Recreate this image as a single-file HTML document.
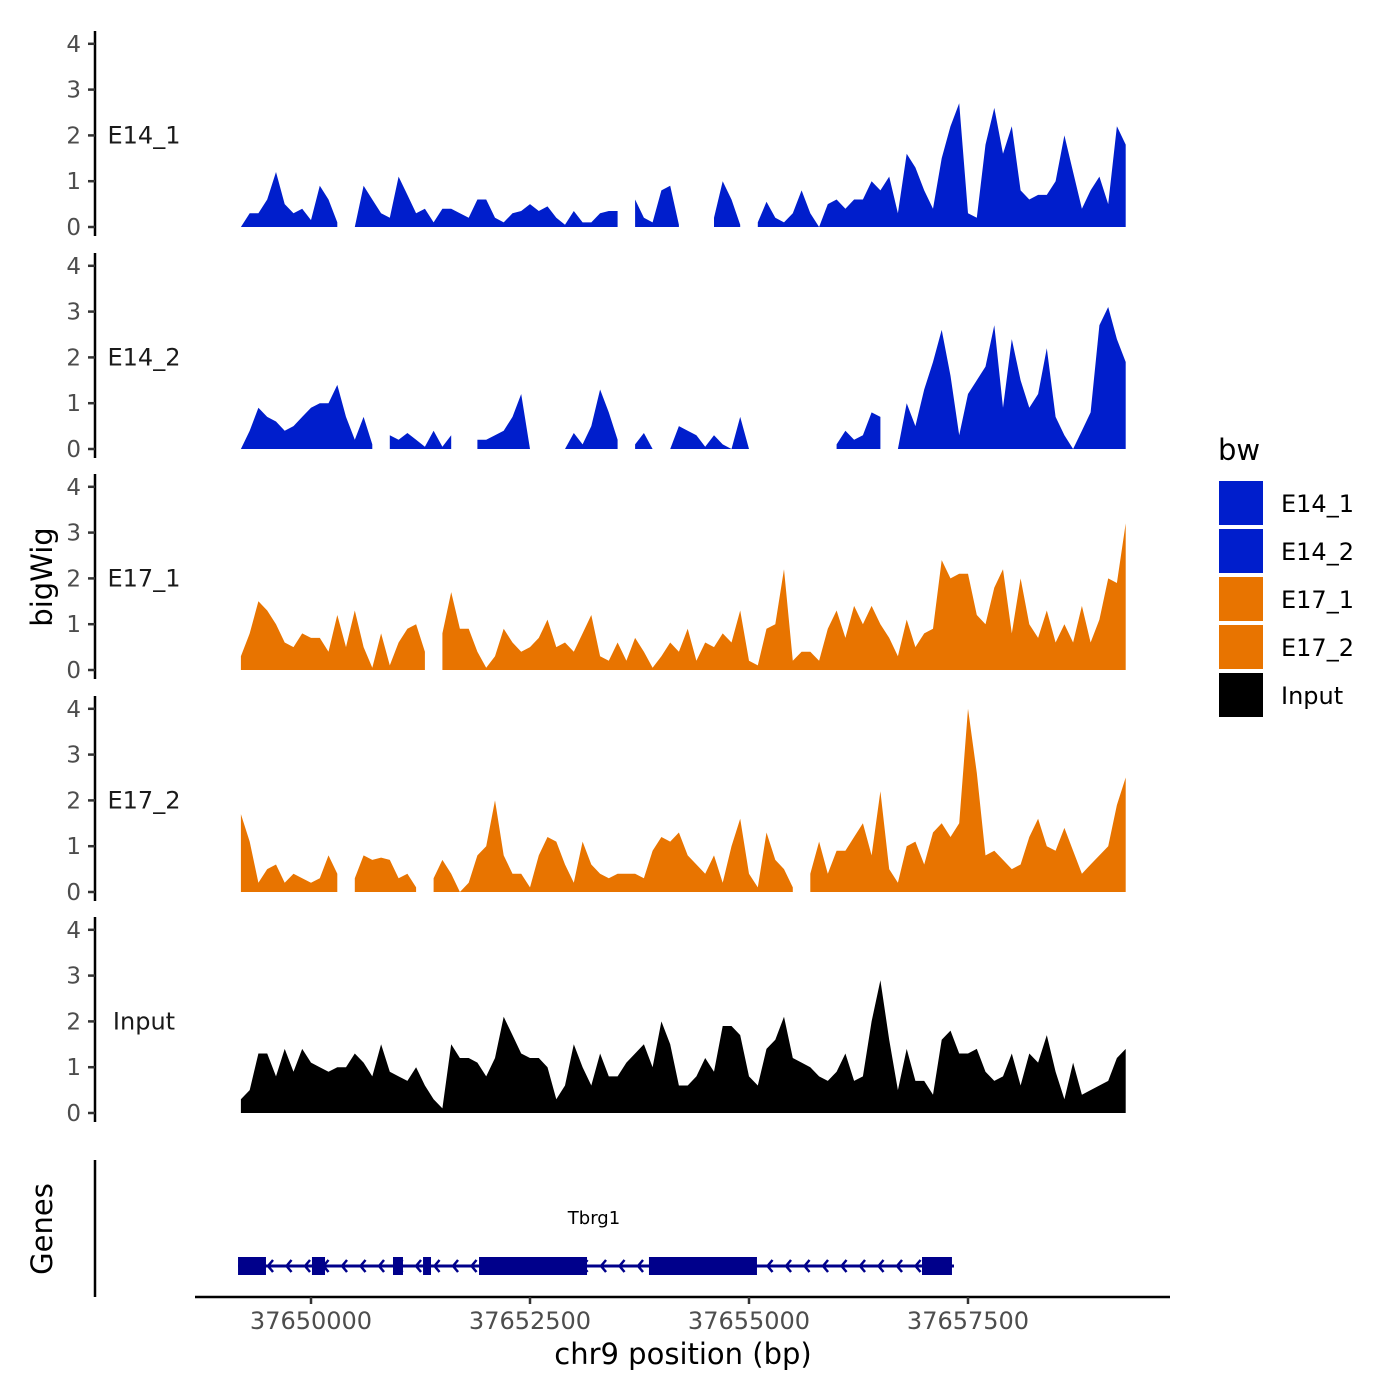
<!DOCTYPE html>
<html><head><meta charset="utf-8"><style>
body{margin:0;background:#fff}
svg{display:block}
text{font-family:"DejaVu Sans","Liberation Sans",sans-serif}
</style></head><body>
<svg id="chart" xmlns="http://www.w3.org/2000/svg" width="1400" height="1400" viewBox="0 0 1400 1400">
<g id="tracks"></g>
<g id="genes"></g>
<g id="xaxis"></g>
<g id="legend"></g>
<text x="52" y="577" font-size="29" text-anchor="middle" transform="rotate(-90 52 577)">bigWig</text>
<text x="52" y="1229" font-size="29" text-anchor="middle" transform="rotate(-90 52 1229)">Genes</text>
<text x="683" y="1364" font-size="29" text-anchor="middle">chr9 position (bp)</text>
</svg>
<script>
const trackNames = ["E14_1","E14_2","E17_1","E17_2","Input"];
const trackColors = ["#001ecc","#001ecc","#e87400","#e87400","#000000"];
const binStart = 37649200;
const binStep = 100;
const yTicks = [0,1,2,3,4];
const xTicks = [37650000,37652500,37655000,37657500];
const xTickLabels = ["37650000","37652500","37655000","37657500"];
const n = null;
const e14_1 = [0,0.3,0.3,0.6,1.2,0.5,0.3,0.4,0.15,0.9,0.6,0.1,n,0,0.9,0.6,0.3,0.2,1.1,0.7,0.3,0.4,0.1,0.4,0.4,0.3,0.2,0.6,0.6,0.2,0.1,0.3,0.35,0.5,0.35,0.45,0.2,0.05,0.35,0.1,0.1,0.3,0.35,0.35,n,0.6,0.2,0.1,0.8,0.9,0.05,n,n,n,0.2,1.0,0.6,0.05,n,0.1,0.55,0.2,0.1,0.3,0.8,0.3,0,0.5,0.6,0.4,0.6,0.6,1.0,0.8,1.1,0.3,1.6,1.3,0.8,0.4,1.5,2.2,2.7,0.3,0.2,1.8,2.6,1.6,2.2,0.8,0.6,0.7,0.7,1.0,2.0,1.2,0.4,0.8,1.1,0.5,2.2,1.8];
const e14_2 = [0,0.4,0.9,0.7,0.6,0.4,0.5,0.7,0.9,1.0,1.0,1.4,0.7,0.2,0.7,0.1,n,0.3,0.2,0.35,0.2,0.05,0.4,0.05,0.3,n,n,0.2,0.2,0.3,0.4,0.7,1.2,0,n,n,n,0,0.35,0.1,0.5,1.3,0.8,0.2,n,0.1,0.35,0,n,0,0.5,0.4,0.3,0.05,0.3,0.1,0,0.7,0,n,n,n,n,n,n,n,n,n,0.1,0.4,0.2,0.3,0.8,0.7,n,0,1.0,0.5,1.3,1.9,2.6,1.6,0.3,1.2,1.5,1.8,2.7,0.9,2.4,1.5,0.9,1.2,2.2,0.7,0.3,0,0.4,0.8,2.7,3.1,2.4,1.9];
const e17_1 = [0.3,0.8,1.5,1.3,1.0,0.6,0.5,0.8,0.7,0.7,0.4,1.2,0.5,1.3,0.5,0.05,0.8,0.1,0.6,0.9,1.0,0.4,n,0.8,1.7,0.9,0.9,0.4,0.05,0.3,0.9,0.6,0.4,0.5,0.7,1.1,0.5,0.6,0.4,0.8,1.2,0.3,0.2,0.6,0.2,0.7,0.4,0.05,0.3,0.6,0.4,0.9,0.2,0.6,0.5,0.8,0.6,1.3,0.2,0.1,0.9,1.0,2.2,0.2,0.4,0.4,0.2,0.9,1.3,0.7,1.4,1.0,1.4,1.0,0.7,0.3,1.1,0.5,0.8,0.9,2.4,2.0,2.1,2.1,1.2,1.0,1.8,2.2,0.8,2.0,1.0,0.7,1.3,0.6,1.0,0.6,1.4,0.6,1.1,2.0,1.9,3.2];
const e17_2 = [1.7,1.1,0.2,0.5,0.6,0.2,0.4,0.3,0.2,0.3,0.8,0.4,n,0.3,0.8,0.7,0.75,0.7,0.3,0.4,0.1,n,0.3,0.7,0.4,0,0.2,0.8,1.0,2.0,0.8,0.4,0.4,0.1,0.8,1.2,1.1,0.6,0.2,1.1,0.6,0.4,0.3,0.4,0.4,0.4,0.3,0.9,1.2,1.1,1.3,0.8,0.6,0.4,0.8,0.2,1.0,1.6,0.4,0.1,1.3,0.7,0.5,0.1,n,0.4,1.1,0.4,0.9,0.9,1.2,1.5,0.8,2.2,0.5,0.2,1.0,1.1,0.6,1.3,1.5,1.2,1.5,4.0,2.6,0.8,0.9,0.7,0.5,0.6,1.2,1.6,1.0,0.9,1.4,0.9,0.4,0.6,0.8,1.0,1.9,2.5];
const input = [0.3,0.5,1.3,1.3,0.8,1.4,0.9,1.4,1.1,1.0,0.9,1.0,1.0,1.3,1.1,0.8,1.5,0.9,0.8,0.7,1.0,0.6,0.3,0.1,1.5,1.2,1.2,1.1,0.8,1.2,2.1,1.7,1.3,1.2,1.2,1.0,0.3,0.6,1.5,1.0,0.6,1.3,0.8,0.8,1.1,1.3,1.5,1.0,2.0,1.5,0.6,0.6,0.8,1.2,0.9,1.9,1.9,1.7,0.8,0.6,1.4,1.6,2.1,1.2,1.1,1.0,0.8,0.7,0.9,1.3,0.7,0.8,2.0,2.9,1.6,0.5,1.4,0.7,0.7,0.4,1.6,1.8,1.3,1.3,1.4,0.9,0.7,0.8,1.3,0.6,1.3,1.1,1.7,0.9,0.3,1.1,0.4,0.5,0.6,0.7,1.2,1.4];
const trackValues = [e14_1,e14_2,e17_1,e17_2,input];
const geneName = "Tbrg1";
const geneStart = 37649167, geneEnd = 37657340;
const exonStarts = [37649167,37650011,37650936,37651279,37651918,37653858,37656975];
const exonEnds   = [37649486,37650160,37651050,37651370,37653151,37655091,37657317];

const NS="http://www.w3.org/2000/svg";
function mk(tag,attrs,parent){const e=document.createElementNS(NS,tag);for(const k in attrs)e.setAttribute(k,attrs[k]);parent.appendChild(e);return e;}
const xScale = bp => 311 + (bp-37650000)*219/2500;
const panelBase = [227,449,670,892,1113];
const unitPx = 45.8;
const tracksG=document.getElementById('tracks');
trackNames.forEach((name,t)=>{
  const base=panelBase[t];
  const yS=v=>base-v*unitPx;
  const g=mk('g',{},tracksG);
  
  
  const ax=mk('line',{x1:95,x2:95,y1:base-196,y2:base+9,stroke:'#000','stroke-width':2.5},g);
  
  
  yTicks.forEach(v=>{
    const tk=mk('line',{x1:88,x2:95,y1:yS(v),y2:yS(v),stroke:'#333','stroke-width':2.5},g);
    
    
    const tl=mk('text',{x:81,y:yS(v)+8,'font-size':23,fill:'#4d4d4d','text-anchor':'end'},g);
    tl.textContent=String(v);
    
    
  });
  const lab=mk('text',{x:144,y:yS(2)+8,'font-size':24,fill:'#1a1a1a','text-anchor':'middle'},g);
  lab.textContent=name;
  
  
  const vals=trackValues[t];
  let seg=[];
  const segs=[];
  vals.forEach((v,i)=>{
    if(v===null){if(seg.length)segs.push(seg);seg=[];}
    else seg.push([binStart+i*binStep,v]);
  });
  if(seg.length)segs.push(seg);
  segs.forEach(s=>{
    let d='M'+xScale(s[0][0]).toFixed(1)+','+base;
    s.forEach(p=>{d+='L'+xScale(p[0]).toFixed(1)+','+yS(p[1]).toFixed(1);});
    d+='L'+xScale(s[s.length-1][0]).toFixed(1)+','+base+'Z';
    const a=mk('path',{d:d,fill:trackColors[t]},g);
    
    
  });
});
const gG=document.getElementById('genes');
const gax=mk('line',{x1:95,x2:95,y1:1160,y2:1297,stroke:'#000','stroke-width':2.5},gG);


const gy=1266;
const gl=mk('line',{x1:xScale(geneStart),x2:xScale(geneEnd),y1:gy,y2:gy,stroke:'#00008b','stroke-width':3},gG);


for(let x=xScale(geneStart)+30;x<xScale(geneEnd)-4;x+=18.5){
  const ar=mk('path',{d:`M${x+5},${gy-6}L${x},${gy}L${x+5},${gy+6}`,fill:'none',stroke:'#00008b','stroke-width':2.5},gG);
  
  
}
exonStarts.forEach((s,i)=>{
  const r=mk('rect',{x:xScale(s),y:gy-9,width:xScale(exonEnds[i])-xScale(s),height:18,fill:'#00008b'},gG);
  
  
});
const gn=mk('text',{x:594,y:1224,'font-size':18,fill:'#000','text-anchor':'middle'},gG);
gn.textContent=geneName;


const xG=document.getElementById('xaxis');
const xl=mk('line',{x1:195,x2:1170,y1:1297,y2:1297,stroke:'#000','stroke-width':2.5},xG);


xTicks.forEach((v,i)=>{
  const tk=mk('line',{x1:xScale(v),x2:xScale(v),y1:1297,y2:1304,stroke:'#333','stroke-width':2.5},xG);
  
  
  const tl=mk('text',{x:xScale(v),y:1329,'font-size':24,fill:'#4d4d4d','text-anchor':'middle'},xG);
  tl.textContent=xTickLabels[i];
  
  
});
const lG=document.getElementById('legend');
const lt=mk('text',{x:1218,y:460,'font-size':29,fill:'#000'},lG);
lt.textContent='bw';


trackNames.forEach((name,i)=>{
  const y=481+i*48;
  const r=mk('rect',{x:1219,y:y,width:44,height:44,fill:trackColors[i]},lG);
  
  
  const t=mk('text',{x:1281,y:y+31,'font-size':24,fill:'#000'},lG);
  t.textContent=name;
  
  
});
</script>
</body></html>
